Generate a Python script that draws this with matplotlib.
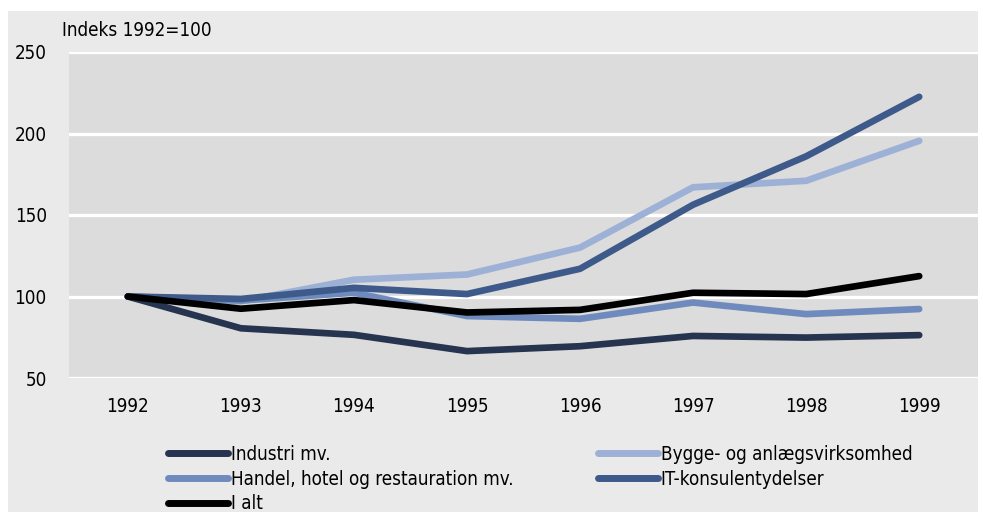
import matplotlib
matplotlib.use("Agg")
import matplotlib.pyplot as plt
from matplotlib.patches import Rectangle
from matplotlib.lines import Line2D

plt.rcParams['font.family'] = ['DejaVu Sans']
plt.rcParams['font.stretch'] = 'condensed'

# Data (indeks 1992=100)
aar = [1992, 1993, 1994, 1995, 1996, 1997, 1998, 1999]
industri = [100, 80.5, 76.5, 66.5, 69.5, 75.8, 74.8, 76.3]
bygge = [100, 97, 110.3, 113.5, 130, 167, 171, 195.5]
handel = [100, 97.5, 102.3, 88, 86.3, 96.3, 89.2, 92.3]
it_konsulent = [100, 98.5, 105.3, 101.5, 117, 156.3, 186, 222.5]
i_alt = [100, 92.5, 97.8, 90.2, 91.8, 102.3, 101.5, 112.5]

navne = ["Industri mv.", "Bygge- og anlægsvirksomhed",
         "Handel, hotel og restauration mv.", "IT-konsulentydelser", "I alt"]
farver = ["#26344f", "#9db1d6", "#6f8bbd", "#3e5a8a", "#000000"]
serier = [industri, bygge, handel, it_konsulent, i_alt]

W, H = 983, 512
fig = plt.figure(figsize=(W / 100, H / 100), dpi=100)
fig.patch.set_facecolor("white")
# lysegraa panel
fig.patches.append(Rectangle((8 / W, 0), (978 - 8) / W, 1 - 11 / H,
                             transform=fig.transFigure, facecolor="#eaeaea",
                             edgecolor="none", zorder=-5))

ax = fig.add_axes([69 / W, 1 - 378 / H, (978 - 69) / W, (378 - 52) / H])
ax.set_zorder(2)
ax.set_facecolor("#dcdcdc")

x = list(range(len(aar)))
for s, f in zip(serier, farver):
    ax.plot(x, s, color=f, lw=4.8, solid_capstyle="round",
            solid_joinstyle="round", zorder=3)

ax.set_xlim(-0.52, len(aar) - 0.48)
ax.set_ylim(50, 250)
ax.set_yticks([50, 100, 150, 200, 250])
ax.set_xticks(x)
ax.set_xticklabels([str(a) for a in aar])
ax.tick_params(length=0, labelsize=13.5, colors="black")
ax.tick_params(axis="y", pad=16)
ax.tick_params(axis="x", pad=14)
ax.grid(axis="y", color="white", lw=2.4, zorder=1)
ax.set_axisbelow(True)
for sp in ax.spines.values():
    sp.set_visible(False)

fig.text(62 / W, 1 - 30 / H, "Indeks 1992=100", fontsize=13.5, va="center")

def handle(f):
    return Line2D([], [], color=f, lw=5, solid_capstyle="round")

kw = dict(frameon=False, fontsize=13.5, handlelength=3.2, handletextpad=0.15,
          labelspacing=0.3, borderpad=0, borderaxespad=0, loc="upper left")
leg1 = fig.legend([handle(farver[0]), handle(farver[2]), handle(farver[4])],
                  [navne[0], navne[2], navne[4]],
                  bbox_to_anchor=(168 / W, 1 - 445 / H), **kw)
leg2 = fig.legend([handle(farver[1]), handle(farver[3])],
                  [navne[1], navne[3]],
                  bbox_to_anchor=(598 / W, 1 - 445 / H), **kw)

fig.savefig("out.png", dpi=100)
